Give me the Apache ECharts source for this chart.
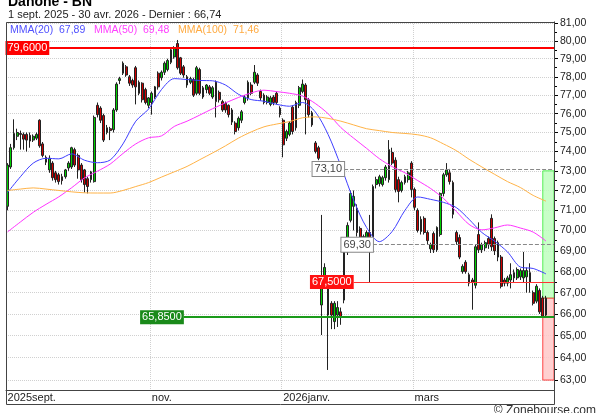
<!DOCTYPE html>
<html lang="fr">
<head>
<meta charset="UTF-8">
<title>Danone - BN</title>
<style>
    html, body { margin: 0; padding: 0; background: #fff; }
    #main { width: 600px; height: 413px; }
</style>
</head>
<body>
<div id="main"></div>
<script src="https://cdn.jsdelivr.net/npm/echarts@6.0.0/dist/echarts.min.js"></script>
<script>
    // jours de bourse (Euronext Paris)
    var holidays = ['2025-12-25', '2025-12-26', '2026-01-01', '2026-04-03', '2026-04-06'];
    function tradingDays(from, to) {
        var out = [];
        var d = new Date(from + 'T12:00:00Z');
        var end = new Date(to + 'T12:00:00Z');
        while (d <= end) {
            var wd = d.getUTCDay();
            var s = d.toISOString().slice(0, 10);
            if (wd !== 0 && wd !== 6 && holidays.indexOf(s) < 0) out.push(s);
            d.setUTCDate(d.getUTCDate() + 1);
        }
        return out;
    }
    var dates = tradingDays('2025-09-01', '2026-04-30');
    var padDays = ['pad1', 'pad2'];

    var tickDates = ['2025-09-01', '2025-11-03', '2026-01-02', '2026-03-02'];
    var tickTexts = ['2025sept.', 'nov.', '2026janv.', 'mars'];

    var priceTicks = [63, 64, 65, 66, 67, 68, 69, 70, 71, 72, 73, 74, 75, 76, 77, 78, 79, 80, 81];
    var halfTicks = [63.5, 64.5, 65.5, 66.5, 67.5, 68.5, 69.5, 70.5, 71.5, 72.5, 73.5, 74.5, 75.5, 76.5, 77.5, 78.5, 79.5, 80.5];

    var openP = [
        71.2, 73.2, 74.2, 74.8, 74.95, 74.9, 74.9, 74.85, 74.6, 74.7,
        75.65, 74.4, 73.7, 73.05, 73.4, 72.9, 72.8, 72.7, 72.7, 73.15,
        73.2, 74.1, 73.8, 73.3, 73.05, 72.6, 72.55, 72.45, 76.45, 76.3,
        75.9, 75.0, 75.2, 75.15, 76.2, 77.8, 78.2, 78.55, 78.0, 77.8,
        78.5, 77.7, 77.65, 77.3, 76.45, 76.6, 76.9, 78.2, 77.95, 78.25,
        78.4, 78.8, 79.1, 79.85, 79.05, 78.55, 78.0, 77.7, 77.85, 77.1,
        78.4, 77.4, 77.3, 77.45, 76.9, 77.7, 77.15, 76.65, 76.55, 76.45,
        76.2, 75.5, 75.25, 75.65, 76.6, 76.85, 77.55, 77.7, 78.1, 77.2,
        77.0, 76.6, 76.5, 76.9, 77.1, 76.3, 75.65, 74.7, 74.9, 76.35,
        75.25, 76.45, 77.2, 77.55, 76.75, 76.05, 74.45, 74.2, 66.42, 67.7,
        67.4, 66.5, 65.65, 65.95, 66.1, 66.65, 68.95, 70.5, 71.2, 71.1,
        70.1, 69.3, 69.55, 69.9, 69.65, 72.3, 72.35, 72.3, 72.65, 72.55,
        73.95, 73.55, 72.55, 72.0, 72.4, 72.55, 73.4, 72.05, 71.0, 69.95,
        70.6, 69.9, 69.1, 69.85, 69.05, 69.8, 71.85, 72.8, 72.9, 72.4,
        69.9, 69.65, 68.0, 68.45, 67.85, 67.6, 67.35, 69.8, 69.05, 69.15,
        69.6, 70.6, 69.6, 69.4, 68.7, 67.6, 67.45, 67.6, 67.7, 67.7,
        67.75, 67.7, 67.75, 67.95, 67.0, 66.6, 67.1, 66.75, 65.95
    ];
    var closeP = [
        73.3, 74.2, 74.95, 75.0, 74.9, 74.65, 74.6, 74.55, 74.8, 74.9,
        74.3, 73.8, 73.45, 73.65, 72.65, 72.55, 72.45, 72.5, 73.05, 73.4,
        74.2, 73.3, 73.05, 72.55, 72.3, 72.2, 72.95, 75.8, 75.95, 75.65,
        74.6, 75.25, 75.1, 76.2, 77.6, 77.9, 78.75, 78.1, 77.65, 77.55,
        77.45, 77.1, 76.75, 76.6, 76.85, 77.1, 77.45, 77.45, 78.25, 78.75,
        78.9, 79.5, 79.6, 78.5, 78.2, 78.1, 77.55, 77.9, 77.0, 78.5,
        77.1, 76.9, 77.55, 77.1, 77.4, 76.65, 76.75, 76.2, 76.2, 75.95,
        75.55, 75.05, 75.75, 76.1, 76.9, 77.7, 77.1, 78.25, 77.65, 76.85,
        76.6, 76.9, 76.85, 76.6, 76.6, 75.95, 74.35, 75.05, 75.5, 75.05,
        76.6, 77.4, 77.6, 76.75, 75.95, 75.4, 74.0, 73.65, 67.74, 68.2,
        65.95, 65.95, 66.5, 66.3, 65.85, 68.95, 70.25, 71.85, 71.7, 69.9,
        69.4, 69.7, 69.9, 69.55, 72.2, 72.55, 72.7, 72.65, 73.2, 74.1,
        73.4, 72.05, 71.95, 72.4, 72.7, 72.9, 72.05, 71.15, 70.0, 70.55,
        69.9, 69.5, 69.3, 69.05, 70.15, 71.85, 72.8, 73.05, 72.45, 70.8,
        69.45, 68.7, 68.25, 68.0, 67.45, 67.5, 69.2, 69.05, 69.3, 69.4,
        69.3, 69.2, 69.0, 68.7, 67.3, 67.45, 67.7, 67.85, 67.95, 68.1,
        68.05, 68.05, 68.05, 67.5, 66.5, 67.3, 66.1, 65.9, 66.74
    ];
    var lowP = [
        71.0, 73.1, 74.1, 74.6, 74.1, 74.1, 74.0, 74.2, 74.5, 74.6,
        74.2, 73.7, 73.3, 72.9, 72.5, 72.4, 72.3, 72.3, 72.6, 73.0,
        73.1, 73.2, 72.6, 72.4, 71.9, 71.85, 72.4, 72.4, 75.8, 75.5,
        74.5, 74.9, 74.6, 75.0, 76.1, 77.6, 78.1, 78.0, 77.5, 77.4,
        76.5, 77.0, 76.6, 76.5, 76.3, 75.95, 76.8, 77.3, 77.8, 78.1,
        78.3, 78.7, 79.0, 78.4, 78.1, 77.95, 77.4, 77.6, 76.9, 77.0,
        77.0, 76.8, 77.1, 77.0, 76.8, 75.8, 76.6, 76.1, 76.05, 75.8,
        75.4, 74.9, 75.1, 75.5, 76.5, 76.7, 77.0, 77.6, 77.5, 76.7,
        76.5, 76.5, 76.4, 76.45, 76.5, 75.8, 73.7, 74.55, 74.8, 74.9,
        75.1, 76.3, 77.1, 74.9, 75.8, 75.3, 73.9, 73.55, 65.03, 67.5,
        63.45, 65.3, 65.3, 65.4, 65.5, 66.5, 68.8, 70.4, 70.0, 69.7,
        69.2, 69.0, 69.4, 67.5, 69.5, 72.1, 72.2, 72.2, 72.5, 72.4,
        73.3, 71.9, 71.4, 71.9, 72.3, 72.4, 71.65, 71.0, 69.9, 69.8,
        69.8, 69.3, 68.9, 68.9, 68.95, 69.7, 71.7, 72.7, 72.3, 70.6,
        69.3, 68.6, 67.9, 67.9, 67.3, 66.2, 67.2, 68.9, 68.9, 69.0,
        69.1, 69.0, 68.8, 68.5, 67.2, 67.3, 67.3, 67.2, 67.5, 67.6,
        67.6, 67.5, 67.0, 67.0, 66.4, 66.5, 66.0, 65.85, 65.9
    ];
    var highP = [
        73.4, 74.4, 75.7, 75.2, 75.1, 75.0, 75.0, 75.0, 74.9, 75.0,
        75.7, 74.5, 73.8, 73.8, 73.5, 73.0, 72.9, 72.85, 73.1, 73.5,
        74.25, 74.2, 73.9, 73.4, 73.1, 72.7, 73.0, 75.9, 76.6, 76.4,
        76.0, 75.4, 75.3, 76.3, 77.7, 78.0, 78.85, 78.65, 78.1, 77.9,
        78.6, 77.8, 77.7, 77.4, 76.9, 77.2, 77.5, 78.3, 78.35, 78.85,
        79.0, 79.55, 79.7, 80.05, 79.1, 78.65, 78.1, 78.0, 77.95, 78.6,
        78.5, 77.5, 77.6, 77.55, 77.5, 77.8, 77.25, 76.75, 76.65, 76.5,
        76.3, 75.6, 75.85, 76.2, 77.0, 77.8, 77.7, 78.65, 78.2, 77.3,
        77.1, 77.0, 76.95, 77.0, 77.2, 76.4, 75.75, 75.15, 75.6, 76.45,
        76.7, 77.5, 77.85, 77.65, 76.85, 76.15, 74.55, 74.3, 70.77, 68.4,
        67.5, 66.6, 66.6, 66.6, 66.3, 69.0, 70.4, 72.0, 72.0, 71.3,
        70.2, 69.8, 70.0, 70.77, 72.3, 72.7, 72.8, 72.75, 73.3, 74.6,
        74.2, 73.7, 72.7, 72.5, 72.8, 73.0, 73.5, 72.15, 71.1, 70.7,
        70.7, 70.0, 69.4, 69.95, 70.2, 71.9, 72.9, 73.4, 73.1, 72.5,
        70.0, 69.8, 68.35, 68.55, 67.95, 67.7, 69.3, 70.4, 69.4, 69.5,
        69.7, 70.8, 69.7, 69.5, 68.8, 67.7, 67.8, 68.4, 68.1, 68.2,
        68.15, 68.95, 68.2, 68.4, 67.1, 67.4, 67.2, 66.85, 66.85
    ];

    // moyennes mobiles, un point tous les 4 jours
    var MA_STEP = 4;
    var ma20 = [71.9, 72.7, 73.4, 73.65, 73.62, 73.88, 73.55, 73.42, 73.56, 74.4, 75.6, 76.25, 77.3, 77.9, 77.85,
        77.8, 77.78, 77.55, 77.05, 76.76, 76.67, 76.5, 76.4, 76.6, 76.1, 74.9, 73.25, 71.5, 70.15, 69.45,
        69.95, 71.0, 71.67, 71.55, 71.4, 71.14, 70.55, 69.9, 69.47, 68.95, 68.22, 68.15, 67.89];
    var ma50 = [69.93, 70.42, 70.9, 71.3, 71.68, 72.14, 72.64, 72.98, 73.35, 73.9, 74.4, 74.72, 74.82, 75.32, 75.6,
        75.93, 76.27, 76.58, 76.87, 77.12, 77.27, 77.19, 77.1, 76.95, 76.55, 76.0, 75.26, 74.7, 74.17, 73.63,
        73.22, 72.9, 72.5, 72.1, 71.6, 70.95, 70.3, 70.03, 70.13, 70.27, 70.12, 69.92, 69.48];
    var ma100 = [72.0, 72.07, 72.13, 72.07, 72.0, 71.93, 71.88, 71.87, 71.87, 72.0, 72.2, 72.4, 72.68, 72.95, 73.23,
        73.58, 73.93, 74.3, 74.7, 75.03, 75.3, 75.45, 75.58, 75.78, 75.83, 75.75, 75.6, 75.4, 75.2, 75.1,
        75.0, 74.95, 74.88, 74.72, 74.4, 74.05, 73.6, 73.2, 72.82, 72.45, 72.15, 71.75, 71.46];

    // niveaux
    var resistHigh = 79.6;
    var supportLow = 65.85;
    var supportMid = 67.5;
    var pivotHigh = 73.10;
    var pivotLow = 69.30;
    var targetUp = 73.0;
    var targetDown = 63.0;

    var FONT = 'Liberation Sans';
    var W = 600, H = 413;
    var GRID = {left: 6, right: 46, top: 22, bottom: 23};
    var PLOT_RIGHT = W - GRID.right;
    var STRIP_BOTTOM = 404;

    function fr(v, n) { return v.toFixed(n).replace('.', ','); }
    function isTick(v) { return tickDates.indexOf(v) >= 0; }

    var lastClose = closeP[closeP.length - 1];
    var candles = dates.map(function (d, i) {
        return [openP[i], closeP[i], lowP[i], highP[i]];
    });
    function maSeries(arr) {
        return arr.map(function (v, k) { return [dates[k * MA_STEP], v]; });
    }

    function boxLabel(bg, fg, border) {
        return {
            show: true, position: 'start', distance: 0,
            color: fg, backgroundColor: bg,
            borderColor: border || bg, borderWidth: border ? 1 : 0,
            padding: [2, 2, 1, 2], fontSize: 11, fontFamily: FONT
        };
    }
    function level(startDate, value, text, lineStyle, label) {
        label.formatter = text;
        return [
            {xAxis: startDate, yAxis: value, lineStyle: lineStyle, label: label},
            {x: PLOT_RIGHT, yAxis: value}
        ];
    }

    var myChart = echarts.init(document.getElementById('main'), null, {renderer: 'canvas'});

    var option = {
        animation: false,
        backgroundColor: '#fff',
        grid: {left: GRID.left, right: GRID.right, top: GRID.top, bottom: GRID.bottom},
        xAxis: {
            type: 'category',
            data: dates.concat(padDays),
            boundaryGap: true,
            axisLine: {show: true, lineStyle: {color: '#444'}},
            axisTick: {show: false},
            axisLabel: {
                interval: function (i, v) { return isTick(v); },
                formatter: function (v) { return isTick(v) ? tickTexts[tickDates.indexOf(v)] : ''; },
                align: 'left', color: '#222', fontSize: 11, fontFamily: FONT, margin: 2
            },
            splitLine: {
                show: true,
                interval: function (i, v) { return isTick(v); },
                lineStyle: {color: '#d0d0d0', type: 'dotted'}
            }
        },
        yAxis: [
            {
                type: 'log', logBase: 10, min: 62.56, max: 81.07, position: 'right',
                axisLine: {show: true, lineStyle: {color: '#000'}},
                axisTick: {show: true, length: 4, lineStyle: {color: '#000'}, customValues: priceTicks},
                axisLabel: {
                    customValues: priceTicks,
                    formatter: function (v) { return fr(v, 2); },
                    color: '#222', fontSize: 10.5, fontFamily: FONT, margin: 6
                },
                splitLine: {show: true, lineStyle: {color: '#d0d0d0', type: 'dotted'}}
            },
            {
                type: 'log', logBase: 10, min: 62.56, max: 81.07, position: 'right',
                axisLine: {show: false},
                axisTick: {show: true, length: 3, lineStyle: {color: '#000'}, customValues: halfTicks},
                axisLabel: {show: false},
                splitLine: {show: false}
            }
        ],
        series: [
            {
                type: 'candlestick',
                name: 'Danone',
                data: candles,
                barWidth: '72%',
                itemStyle: {
                    color: '#00d000', color0: '#d00000',
                    borderColor: '#222', borderColor0: '#222', borderWidth: 1
                },
                markArea: {
                    silent: true,
                    data: [
                        [{xAxis: dates[dates.length - 2], yAxis: targetUp,
                            itemStyle: {color: 'rgba(190,255,190,0.85)', borderColor: '#55ee55', borderWidth: 1}},
                         {x: PLOT_RIGHT, yAxis: lastClose}],
                        [{xAxis: dates[dates.length - 2], yAxis: lastClose,
                            itemStyle: {color: 'rgba(255,200,200,0.85)', borderColor: '#ff4444', borderWidth: 1}},
                         {x: PLOT_RIGHT, yAxis: targetDown}]
                    ]
                },
                markLine: {
                    silent: true,
                    symbol: ['none', 'none'],
                    data: [
                        level(dates[13], resistHigh, fr(resistHigh, 4),
                            {color: '#ff0000', width: 2, type: 'solid'}, boxLabel('#ff0000', '#fff')),
                        level(dates[55], supportLow, fr(supportLow, 4),
                            {color: '#1a9a1a', width: 2, type: 'solid'}, boxLabel('#1a8a1a', '#fff')),
                        level(dates[108], supportMid, fr(supportMid, 4),
                            {color: '#ff3333', width: 1, type: 'solid'}, boxLabel('#ff1010', '#fff')),
                        level(dates[105], pivotHigh, fr(pivotHigh, 2),
                            {color: '#888', width: 1, type: 'dashed'}, boxLabel('#fff', '#444', '#888')),
                        level(dates[114], pivotLow, fr(pivotLow, 2),
                            {color: '#888', width: 1, type: 'dashed'}, boxLabel('#fff', '#444', '#888'))
                    ]
                }
            },
            {
                type: 'line', name: 'MMA(20)', data: maSeries(ma20), showSymbol: false, smooth: 0.3,
                lineStyle: {color: '#3f3fff', width: 1}, z: 3
            },
            {
                type: 'line', name: 'MMA(50)', data: maSeries(ma50), showSymbol: false, smooth: 0.3,
                lineStyle: {color: '#ff33ff', width: 1}, z: 3
            },
            {
                type: 'line', name: 'MMA(100)', data: maSeries(ma100), showSymbol: false, smooth: 0.3,
                lineStyle: {color: '#ffb347', width: 1}, z: 3
            }
        ],
        graphic: [
            {
                type: 'rect', silent: true, z: 100,
                shape: {x: GRID.left + 0.5, y: GRID.top + 0.5, width: PLOT_RIGHT - GRID.left, height: STRIP_BOTTOM - GRID.top},
                style: {fill: null, stroke: '#444', lineWidth: 1}
            },
            {
                type: 'text', left: 8, top: -5, silent: true,
                style: {text: 'Danone - BN', fill: '#000', font: 'bold 14px "' + FONT + '"'}
            },
            {
                type: 'text', left: 8, top: 9, silent: true,
                style: {text: '1 sept. 2025 - 30 avr. 2026 - Dernier : ' + fr(lastClose, 2),
                    fill: '#222', font: '11px "' + FONT + '"'}
            },
            {
                type: 'text', left: 10, top: 25, silent: true, z: 100,
                style: {
                    text: '{a|MMA(20)  ' + fr(ma20[ma20.length - 1], 2) + '}   {b|MMA(50)  ' +
                        fr(ma50[ma50.length - 1], 2) + '}   {c|MMA(100)  ' + fr(ma100[ma100.length - 1], 2) + '}',
                    font: '10.5px "' + FONT + '"',
                    rich: {
                        a: {fill: '#5050ff', font: '10.5px "' + FONT + '"'},
                        b: {fill: '#ff40ff', font: '10.5px "' + FONT + '"'},
                        c: {fill: '#ffaa40', font: '10.5px "' + FONT + '"'}
                    }
                }
            },
            {
                type: 'text', right: 4, top: 405, silent: true,
                style: {text: '\u00a9 Zonebourse.com', fill: '#333', font: '12px "' + FONT + '"'}
            }
        ]
    };
    myChart.setOption(option);
</script>
</body>
</html>
